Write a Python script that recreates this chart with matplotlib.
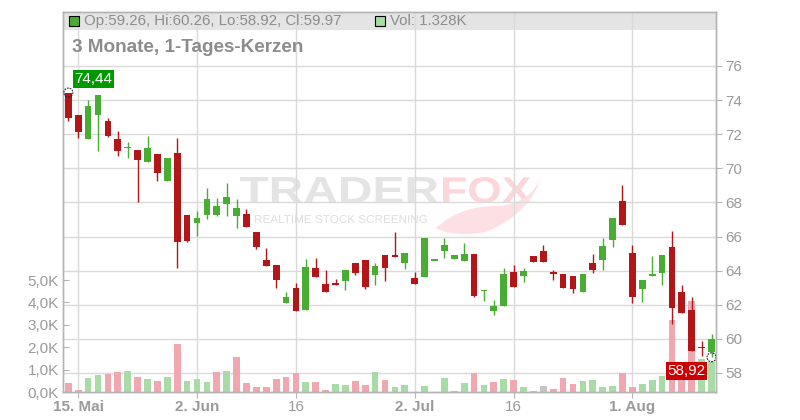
import matplotlib
matplotlib.use("Agg")
import matplotlib.pyplot as plt
import matplotlib.transforms as mtransforms
from matplotlib.patches import Rectangle, PathPatch
from matplotlib.path import Path
from matplotlib.textpath import TextPath
from matplotlib.font_manager import FontProperties
import numpy as np

plt.rcParams["font.family"] = ["Liberation Sans", "DejaVu Sans"]

# daily candles, 14 May .. 13 Aug (index = trading day)
opens = [74.40, 73.12, 71.72, 73.14, 72.76, 71.70, 71.20, 71.06, 70.37, 70.82,
         69.25, 70.90, 67.24, 66.82, 67.26, 67.29, 67.90, 67.19, 67.33, 66.29,
         64.65, 64.35, 62.08, 63.00, 61.72, 64.18, 63.24, 63.29, 63.37, 64.47,
         64.65, 63.72, 64.94, 64.94, 64.43, 63.59, 63.61, 64.62, 65.14, 64.67,
         64.55, 65.00, 62.84, 61.61, 61.90, 63.94, 63.67, 64.88, 65.14, 63.94,
         63.82, 63.71, 62.72, 64.47, 64.61, 65.78, 68.06, 65.06, 62.90, 63.67,
         63.84, 65.41, 62.76, 61.71, 59.52, 59.26]
highs = [74.44, 73.12, 74.00, 74.29, 72.96, 72.18, 71.55, 71.06, 71.88, 70.82,
         70.59, 71.80, 67.24, 67.47, 68.84, 68.25, 69.12, 68.18, 67.60, 66.29,
         65.35, 64.35, 62.76, 63.29, 64.71, 64.76, 64.06, 63.53, 64.06, 64.47,
         64.65, 64.47, 64.94, 66.25, 65.06, 63.94, 65.94, 64.64, 65.92, 64.94,
         65.65, 65.00, 62.88, 62.29, 64.14, 64.35, 64.18, 64.88, 65.53, 64.06,
         63.82, 63.71, 63.82, 65.00, 65.94, 67.06, 69.00, 65.53, 63.47, 64.88,
         64.94, 66.35, 63.18, 62.47, 59.88, 60.26]
lows = [72.78, 71.78, 71.72, 71.02, 71.84, 70.70, 70.59, 68.02, 70.37, 69.24,
        69.25, 64.16, 65.70, 66.02, 67.02, 67.19, 67.19, 66.49, 66.55, 65.25,
        64.25, 62.96, 62.08, 61.65, 61.72, 63.61, 62.72, 63.14, 62.84, 63.75,
        62.90, 63.14, 63.37, 64.78, 64.08, 63.19, 63.61, 64.62, 64.73, 64.67,
        64.55, 62.43, 62.25, 61.41, 61.90, 63.02, 63.33, 64.49, 64.49, 63.43,
        62.96, 62.71, 62.72, 63.84, 64.02, 65.37, 66.66, 62.08, 62.19, 63.67,
        63.14, 60.90, 61.49, 59.29, 58.98, 58.92]
closes = [72.96, 72.14, 73.65, 74.29, 71.90, 71.02, 71.24, 70.47, 71.18, 69.72,
          70.59, 65.66, 65.76, 67.06, 68.18, 67.82, 68.29, 67.67, 66.55, 65.37,
          64.25, 63.43, 62.47, 61.65, 64.24, 63.61, 62.72, 63.14, 64.06, 63.84,
          63.02, 64.27, 64.14, 64.78, 65.06, 63.19, 65.94, 64.64, 65.53, 64.94,
          65.00, 62.49, 62.86, 61.94, 63.82, 63.02, 64.00, 64.49, 64.49, 63.78,
          62.96, 62.90, 63.82, 64.02, 65.47, 67.06, 66.66, 62.43, 63.47, 63.80,
          64.94, 61.84, 61.49, 59.29, 59.47, 59.97]
volumes = [0.40, 0.09, 0.62, 0.76, 0.80, 0.89, 0.94, 0.67, 0.58, 0.49,
           0.67, 2.14, 0.49, 0.58, 0.45, 0.89, 0.94, 1.56, 0.40, 0.24,
           0.24, 0.58, 0.67, 0.85, 0.45, 0.45, 0.09, 0.36, 0.31, 0.49,
           0.31, 0.89, 0.54, 0.22, 0.31, 0.00, 0.27, 0.00, 0.62, 0.04,
           0.40, 0.85, 0.31, 0.45, 0.58, 0.54, 0.22, 0.04, 0.27, 0.13,
           0.62, 0.36, 0.49, 0.54, 0.22, 0.27, 0.85, 0.22, 0.36, 0.54,
           0.71, 3.21, 0.90, 4.06, 1.47, 1.328]

date_ticks = [1, 13, 23, 35, 45, 57]
date_labels = ["15. Mai", "2. Jun", "16", "2. Jul", "16", "1. Aug"]
price_ticks = [58, 60, 62, 64, 66, 68, 70, 72, 74, 76]
vol_ticks = [0, 1, 2, 3, 4, 5]
vol_labels = ["0,0K", "1,0K", "2,0K", "3,0K", "4,0K", "5,0K"]

GREEN = "#49ad33"
RED = "#b21618"
VGREEN = "#a9dba6"
VRED = "#f0a7b0"
VGRAY = "#c4c4c4"
GRID = "#dadada"
FRAME = "#b4b4b4"
TXT = "#9a9a9a"

o = np.array(opens); h = np.array(highs); l = np.array(lows); c = np.array(closes)
idx = np.arange(len(o))

fig = plt.figure(figsize=(8, 4.2), dpi=100)
ax_vol = fig.add_axes([63/800, 28/420, 653/800, 380/420])
ax_vol.set_facecolor("none")
ax = ax_vol.twinx()

# volume, coloured by close vs previous close
vcols = []
for i in range(len(c)):
    ref = o[i] if i == 0 else c[i-1]
    if c[i] > ref:
        vcols.append(VGREEN)
    elif c[i] < ref:
        vcols.append(VRED)
    else:
        vcols.append(VGRAY)
ax_vol.bar(idx, volumes, width=0.68, color=vcols, zorder=2)
ax_vol.set_xlim(-0.54, 65.45)
ax_vol.set_ylim(0, 380/22.4)

# header band + grid
ax_vol.add_patch(Rectangle((0, 362/380), 1, 18/380, transform=ax_vol.transAxes,
                           facecolor="#e4e4e4", edgecolor="none", zorder=0.2))
ax_vol.set_axisbelow(True)
ax_vol.grid(axis="x", color=GRID, lw=1)
blend = mtransforms.blended_transform_factory(ax_vol.transAxes, ax.transData)
ax_vol.hlines(price_ticks, 0, 1, transform=blend, color=GRID, lw=1, zorder=1)

# candles
up = c >= o
bcol = np.where(up, GREEN, RED)
ax.vlines(idx, l, h, colors=bcol, lw=1.0, zorder=2)
bh = np.abs(c - o)
bh_draw = np.maximum(bh, 0.08)
bottom = np.minimum(o, c) - (bh_draw - bh) / 2
ax.bar(idx, bh_draw, bottom=bottom, width=0.68, color=bcol, zorder=3)
ax.set_ylim(56.886, 79.165)
ax.set_xlim(-0.54, 65.45)

# high / low markers and labels
ihi = int(np.argmax(h)); ilo = int(np.argmin(l))
ax.scatter([ihi, ilo], [h[ihi], l[ilo]], s=42, facecolors="none", edgecolors="#222222",
           linewidths=0.8, linestyles=(0, (1.5, 1)), zorder=5)
ax.annotate(f"{h[ihi]:.2f}".replace(".", ","), (ihi, h[ihi]), xytext=(25, 13.5),
            textcoords="offset pixels", ha="center", va="center", color="white", fontsize=11,
            bbox=dict(boxstyle="square,pad=0.12", fc="#009a00", ec="none"), zorder=6)
ax.annotate(f"{l[ilo]:.2f}".replace(".", ","), (ilo, l[ilo]), xytext=(-25, -13.5),
            textcoords="offset pixels", ha="center", va="center", color="white", fontsize=11,
            bbox=dict(boxstyle="square,pad=0.12", fc="#cc0000", ec="none"), zorder=6)

# axes styling
ax.set_yticks(price_ticks)
ax.tick_params(axis="y", right=True, direction="out", length=4, color=FRAME,
               labelcolor=TXT, labelsize=11, pad=3)
ax.tick_params(axis="x", bottom=False, labelbottom=False)
ax_vol.set_yticks(vol_ticks)
ax_vol.set_yticklabels(vol_labels)
ax_vol.tick_params(axis="y", direction="in", length=4, color=FRAME, labelcolor=TXT,
                   labelsize=11, pad=3)
ax_vol.set_xticks(date_ticks)
ax_vol.set_xticklabels(date_labels)
ax_vol.tick_params(axis="x", direction="out", length=4, color=FRAME, labelcolor=TXT,
                   labelsize=11, pad=2)
for t in ax_vol.get_xticklabels():
    if not t.get_text().isdigit():
        t.set_fontweight("bold")
for a in (ax, ax_vol):
    for s in a.spines.values():
        s.set_color(FRAME)
        s.set_linewidth(1)

# watermark
def pix(x0, y0):
    # image pixels (top-left origin) -> figure fraction
    return mtransforms.Affine2D().translate(x0, 420 - y0).scale(1/800, 1/420) + fig.transFigure

def stamp(text, x0, x1, ytop, ybot, color, weight):
    tp = TextPath((0, 0), text, size=10,
                  prop=FontProperties(family="Liberation Sans", weight=weight))
    bb = tp.get_extents()
    tr = (mtransforms.Affine2D().translate(-bb.x0, -bb.y0)
          .scale((x1 - x0) / bb.width, (ybot - ytop) / bb.height)) + pix(x0, ybot)
    fig.add_artist(PathPatch(tp, transform=tr, facecolor=color, edgecolor="none", zorder=-1))

stamp("TRADER", 240, 438, 177, 203, "#e4e4e4", "bold")
stamp("FOX", 443, 531, 177, 203, "#fcd6da", "bold")
stamp("REALTIME STOCK SCREENING", 255, 427, 215, 223, "#dedede", "normal")

# fox tail swoosh (offsets in pixels from its left end, y up)
tail = Path([(0, 0), (15, 14), (35, 22), (60, 22), (80, 22), (98, 32), (104, 50),
             (100, 30), (80, 8), (50, -4), (28, -8), (10, -6), (0, 0)],
            [Path.MOVETO, Path.CURVE4, Path.CURVE4, Path.CURVE4, Path.CURVE4, Path.CURVE4,
             Path.CURVE4, Path.CURVE4, Path.CURVE4, Path.CURVE4, Path.CURVE4, Path.CURVE4,
             Path.CURVE4])
fig.add_artist(PathPatch(tail, transform=pix(436, 228), facecolor="#fde0e3",
                         edgecolor="none", zorder=-1))

# header texts
fig.add_artist(Rectangle((68.5/800, 1 - 26/420), 10/800, 9.5/420, transform=fig.transFigure,
                         facecolor=GREEN, edgecolor="black", lw=0.8, zorder=5))
fig.text(84/800, 1 - 21/420,
         f"Op:{o[-1]:.2f}, Hi:{h[-1]:.2f}, Lo:{l[-1]:.2f}, Cl:{c[-1]:.2f}",
         fontsize=10.8, color="#8c8c8c", va="center", zorder=6)
fig.add_artist(Rectangle((375/800, 1 - 26/420), 10/800, 9.5/420, transform=fig.transFigure,
                         facecolor=VGREEN, edgecolor="black", lw=0.8, zorder=5))
fig.text(390/800, 1 - 21/420, f"Vol: {volumes[-1]:.3f}K",
         fontsize=10.8, color="#8c8c8c", va="center", zorder=6)
fig.text(72/800, 1 - 47/420, "3 Monate, 1-Tages-Kerzen", fontsize=13.6, fontweight="bold",
         color="#8c8c8c", va="center")

fig.savefig("out.png", dpi=100)
